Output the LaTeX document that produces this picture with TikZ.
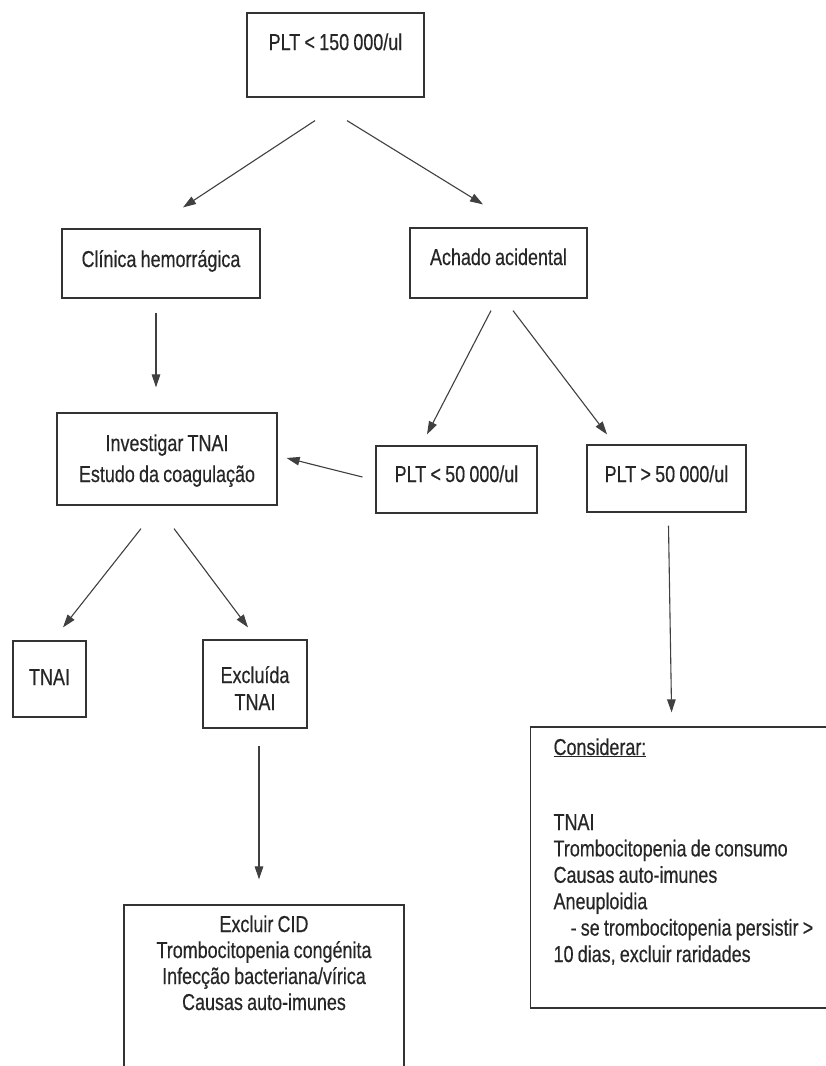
\documentclass[tikz,border=0pt]{standalone}
\usepackage{fontspec}
\setmainfont[FakeStretch=0.78,WordSpace=0.85,FakeBold=0.4]{Liberation Sans}
\usetikzlibrary{arrows.meta}

\begin{document}
\begin{tikzpicture}[
    x=1pt, y=-1pt,
    font=\fontsize{23}{26}\selectfont,
    box/.style={
        rectangle,
        draw=black!80,
        line width=1.2pt,
        align=center,
        inner xsep=0pt,
        inner ysep=0pt,
        text=black!85,
        anchor=base
    },
    listbox/.style={
        box,
        align=left,
        inner xsep=23pt,
        anchor=base west
    },
    arrow/.style={
        -{Triangle[length=13pt,width=8.5pt]},
        line width=1.1pt,
        draw=black!75
    }
]

\useasboundingbox (0,0) rectangle (826,1066);
\clip (0,0) rectangle (826,1066);
\fill[white] (0,0) rectangle (826,1066);

% =========================================================
% Boxes
% =========================================================
\node[box, minimum width=177pt, text height=37pt, text depth=47pt] (plt150) at (335.5,50)
{PLT < 150 000/ul};

\node[box, minimum width=198pt, text height=38pt, text depth=31pt] (clinica) at (161,267)
{Clínica hemorrágica};

\node[box, minimum width=177pt, text height=37pt, text depth=33pt] (achado) at (498.5,265)
{Achado acidental};

\node[box, minimum width=220pt, text height=69pt, text depth=23pt,
      font=\fontsize{23}{31}\selectfont] (investigar) at (167,482)
{Investigar TNAI\\Estudo da coagulação};

\node[box, minimum width=161pt, text height=36pt, text depth=31pt] (plt50lo) at (456.5,482)
{PLT < 50 000/ul};

\node[box, minimum width=159pt, text height=37pt, text depth=30pt] (plt50hi) at (666.5,482)
{PLT > 50 000/ul};

\node[box, minimum width=73pt, text height=44pt, text depth=32pt] (tnai) at (49.5,685)
{TNAI};

\node[box, minimum width=104pt, text height=70pt, text depth=18pt,
      font=\fontsize{23}{27}\selectfont] (excluida) at (255,710)
{Excluída\\TNAI};

\node[box, minimum width=280pt, text height=105pt, text depth=90pt] (excluircid) at (264,1010)
{Excluir CID\\Trombocitopenia congénita\\Infecção bacteriana/vírica\\Causas auto-imunes};

\node[listbox, text width=300pt, text height=28pt, text depth=253pt,
      font=\fontsize{23}{26.4}\selectfont] (considerar) at (530,755)
{\spaceskip=4.2pt\relax\frenchspacing
\underline{Considerar:}\\[48.6pt]
TNAI\\
Trombocitopenia de consumo\\
Causas auto-imunes\\
Aneuploidia\\
\hspace*{17pt}- se trombocitopenia persistir >\\
10 dias, excluir raridades};

% =========================================================
% Arrows
% =========================================================
\draw[arrow] ([xshift=-20.5pt,yshift=-23pt]plt150.south) -- ([xshift=22pt,yshift=21pt]clinica.north);
\draw[arrow] ([xshift=11.5pt,yshift=-23pt]plt150.south) -- ([xshift=-15.5pt,yshift=23pt]achado.north);

\draw[arrow] ([xshift=-5pt,yshift=-14pt]clinica.south) -- ([xshift=-11pt,yshift=25pt]investigar.north);

\draw[arrow] ([xshift=-7.5pt,yshift=-12pt]achado.south) -- ([xshift=-29.5pt,yshift=11pt]plt50lo.north);
\draw[arrow] ([xshift=14.5pt,yshift=-12pt]achado.south) -- ([xshift=-59.5pt,yshift=10pt]plt50hi.north);

\draw[arrow] ([xshift=-13pt,yshift=2.5pt]plt50lo.west) -- ([xshift=9pt,yshift=1pt]investigar.east);

\draw[arrow] ([xshift=-26pt,yshift=-23pt]investigar.south) -- ([xshift=13.5pt,yshift=13pt]tnai.north);
\draw[arrow] ([xshift=7pt,yshift=-23pt]investigar.south) -- ([xshift=-7pt,yshift=12pt]excluida.north);

\draw[arrow] ([xshift=4pt,yshift=-17pt]excluida.south) -- ([xshift=-5pt,yshift=25pt]excluircid.north);

\draw[arrow] ([xshift=2pt,yshift=-13pt]plt50hi.south) -- ([xshift=-32pt,yshift=14pt]considerar.north);

\end{tikzpicture}
\end{document}
